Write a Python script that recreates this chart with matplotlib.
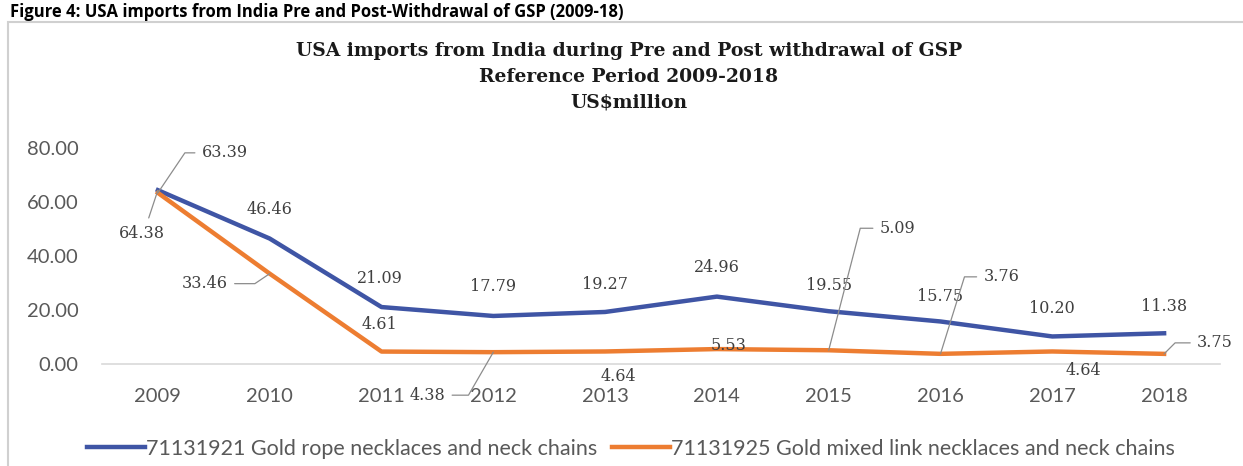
import numpy as np
import matplotlib as mpl
mpl.use('Agg')
import matplotlib.pyplot as plt
from matplotlib.patches import Rectangle

years = ['2009', '2010', '2011', '2012', '2013', '2014', '2015', '2016', '2017', '2018']
rope = [64.38, 46.46, 21.09, 17.79, 19.27, 24.96, 19.55, 15.75, 10.20, 11.38]
mixed = [63.39, 33.46, 4.61, 4.38, 4.64, 5.53, 5.09, 3.76, 4.64, 3.75]
rope_name = '71131921 Gold rope necklaces and neck chains'
mixed_name = '71131925 Gold mixed link necklaces and neck chains'
yticks = [0, 20, 40, 60, 80]

# label offsets in pixels (dx, dy up) as placed in the original chart
rope_off = [(-16, -43), (0, 29), (-2, 29), (0, 29), (0, 27), (0, 29), (0, 26), (0, 25), (0, 28), (0, 27)]
mixed_off = [(67, 40), (-65, -10), (-2, 27), (-66, -43), (13, -25), (12, 4), (69, 122), (61, 77), (31, -19), (51, 11)]
# leader lines: index -> (relpos, connectionstyle)
mixed_lead = {0: ((0, 0.5), 'angle,angleA=0,angleB=56,rad=0'),
              1: ((1, 0.5), 'angle,angleA=0,angleB=34,rad=0'),
              3: ((1, 0.5), 'angle,angleA=0,angleB=60,rad=0'),
              6: ((0, 0.5), 'angle,angleA=0,angleB=75.5,rad=0'),
              7: ((0, 0.5), 'angle,angleA=0,angleB=72.7,rad=0'),
              9: ((0, 0.5), 'angle,angleA=0,angleB=45,rad=0')}
rope_lead = {0: ((0.6, 1), 'arc3')}

blue = '#3f55a5'
orange = '#ed7d31'
grey = '#595959'

W, H = 1243, 466
fig = plt.figure(figsize=(W / 100, H / 100), dpi=100, facecolor='white')

# caption above the chart frame
fig.text(10 / W, 1 - 3 / H, 'Figure 4: USA imports from India Pre and Post-Withdrawal of GSP (2009-18)',
         fontsize=12, fontweight='bold', family='Open Sans', va='top', ha='left', color='black')
fig.patches.append(Rectangle((8 / W, -0.1), 1.2, 1 - 22 / H + 0.1, transform=fig.transFigure,
                             fill=False, edgecolor='#d0d0d0', lw=1.5))

fig.text(629 / W, 1 - 77 / H, 'USA imports from India during Pre and Post withdrawal of GSP\n'
         'Reference Period 2009-2018\nUS$million', ha='center', va='center',
         family='DejaVu Serif', fontweight='bold', fontsize=13.5, linespacing=1.55, color='#1a1a1a')

ax = fig.add_axes([102 / W, 1 - 364 / H, (1220 - 102) / W, (364 - 148) / H])
x = np.arange(len(years))
ax.plot(x, rope, color=blue, lw=3.2, solid_joinstyle='round', label=rope_name, zorder=3)
ax.plot(x, mixed, color=orange, lw=3.2, solid_joinstyle='round', label=mixed_name, zorder=3)

ax.set_xlim(-0.5, len(years) - 0.5)
ax.set_ylim(0, 80)
ax.set_xticks(x)
ax.set_xticklabels(years)
ax.set_yticks(yticks)
ax.set_yticklabels(['%.2f' % v for v in yticks])
ax.tick_params(length=0, labelsize=14.5, labelcolor=grey)
ax.tick_params(axis='x', pad=17)
ax.tick_params(axis='y', pad=17)
for lab in ax.get_xticklabels() + ax.get_yticklabels():
    lab.set_family('Lato')
for s in ['top', 'right', 'left']:
    ax.spines[s].set_visible(False)
ax.spines['bottom'].set_color('#d9d9d9')
ax.spines['bottom'].set_linewidth(1.2)
ax.patch.set_alpha(0)


def put_labels(vals, offs, leads):
    for i, v in enumerate(vals):
        kw = {}
        if i in leads:
            rel, cs = leads[i]
            kw['arrowprops'] = dict(arrowstyle='-', color='#8c8c8c', lw=0.9, relpos=rel,
                                    connectionstyle=cs, shrinkA=3, shrinkB=0)
        ax.annotate('%.2f' % v, (x[i], v), xytext=offs[i], textcoords='offset pixels',
                    ha='center', va='center', fontsize=11.5, family='DejaVu Serif',
                    color='#404040', zorder=4, annotation_clip=False, **kw)


put_labels(rope, rope_off, rope_lead)
put_labels(mixed, mixed_off, mixed_lead)

fig.legend(loc='center', bbox_to_anchor=(631 / W, 1 - 449 / H), ncol=2, frameon=False,
           prop={'family': 'Lato', 'size': 15.5}, labelcolor=grey, handlelength=2.7,
           handletextpad=0.05, columnspacing=0.7, borderaxespad=0)

fig.savefig('out.png', dpi=100, facecolor='white')
